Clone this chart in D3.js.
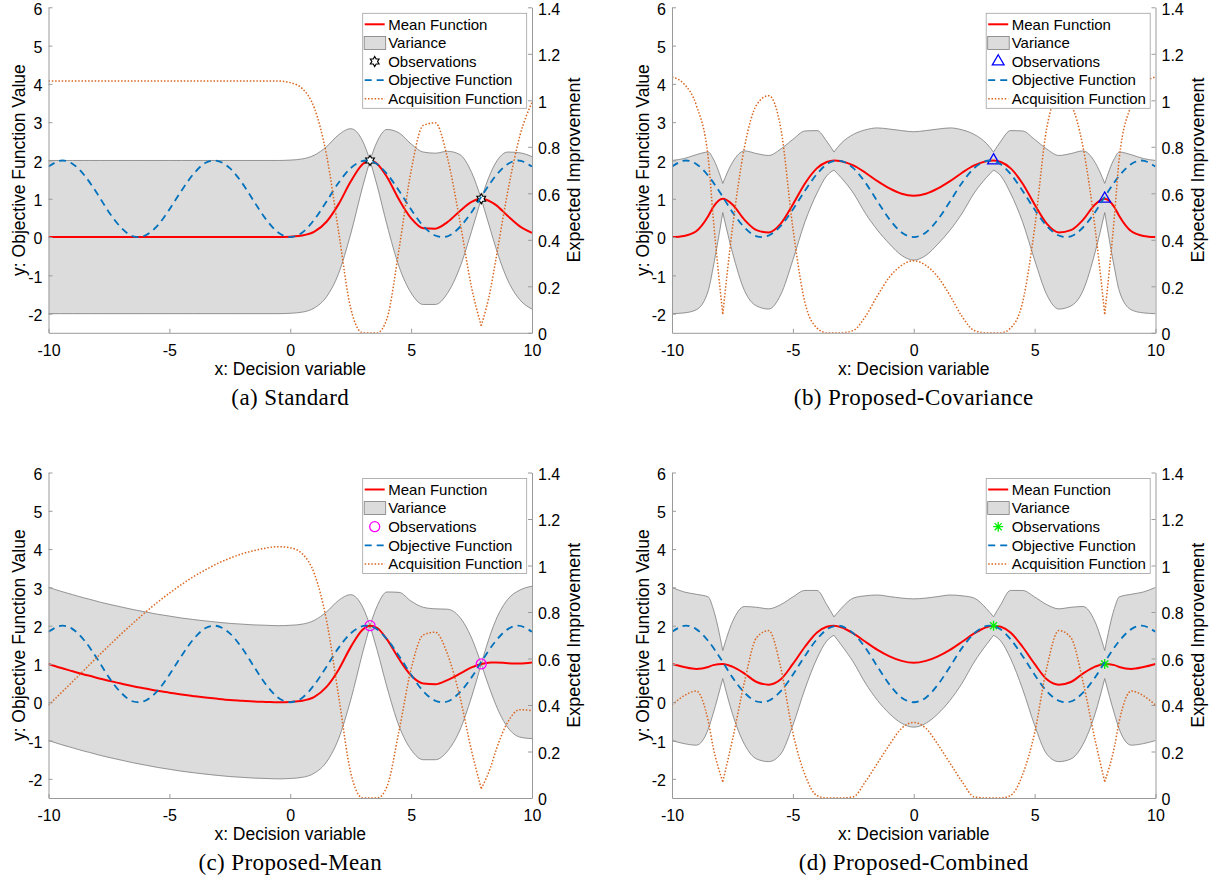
<!DOCTYPE html>
<html>
<head>
<meta charset="utf-8">
<script src="https://cdn.jsdelivr.net/npm/d3@7"></script>
<style>
  body { margin: 0; background: #fff; }
  svg text { fill: #000; }
</style>
</head>
<body>
<svg id="chart" width="1216" height="879"></svg>
<script>
// grid used by the GP curves (mean, band, acquisition)
var xs = [-10, -9.5, -9, -8.5, -8.3, -7.9, -7.5, -7, -6.5, -6,
          -5.5, -5, -4.5, -4, -3.6, -3.3, -3, -2.5, -2, -1.5,
          -1, -0.5, 0, 0.5, 1, 1.5, 2, 2.5, 3, 3.3,
          3.6, 4, 4.5, 5, 5.5, 6, 6.5, 7, 7.5, 7.9,
          8.3, 8.5, 9, 9.5, 10];

// objective function (blue dashed), own grid
var objX = [-10, -9.42, -9, -8.5, -8, -7.5, -7, -6.5, -6.28, -6,
            -5.5, -5, -4.5, -4, -3.5, -3.14, -2.5, -2, -1.5, -1,
            -0.5, 0, 0.5, 1, 1.5, 2, 2.5, 3.14, 3.5, 4,
            4.5, 5, 5.5, 6, 6.28, 6.5, 7, 7.5, 8, 8.5,
            9, 9.42, 10];
var objective = [1.84, 2.00, 1.91, 1.60, 1.15, 0.65, 0.25, 0.02, 0.00, 0.04,
                 0.29, 0.72, 1.21, 1.65, 1.94, 2.00, 1.80, 1.42, 0.93, 0.46,
                 0.12, 0.00, 0.12, 0.46, 0.93, 1.42, 1.80, 2.00, 1.94, 1.65,
                 1.21, 0.72, 0.29, 0.04, 0.00, 0.02, 0.25, 0.65, 1.15, 1.60,
                 1.91, 2.00, 1.84];

var obsX = [3.3, 7.9];
var obsY = [2.0, 1.0];

// (a) Standard
var meanA = [0, 0, 0, 0, 0, 0, 0, 0, 0, 0,
             0, 0, 0, 0, 0, 0, 0, 0, 0, 0,
             0, 0, 0.01, 0.04, 0.14, 0.40, 0.86, 1.45, 1.91, 2.00,
             1.91, 1.57, 0.98, 0.49, 0.23, 0.22, 0.39, 0.67, 0.92, 1.00,
             0.92, 0.84, 0.55, 0.28, 0.11];
var upperA = [2, 2, 2, 2, 2, 2, 2, 2, 2, 2,
              2, 2, 2, 2, 2, 2, 2, 2, 2, 2,
              2, 2, 2.01, 2.04, 2.14, 2.36, 2.67, 2.83, 2.50, 2.00,
              2.50, 2.81, 2.72, 2.43, 2.22, 2.19, 2.24, 2.16, 1.69, 1.00,
              1.69, 1.94, 2.22, 2.20, 2.10];
var lowerA = [-2, -2, -2, -2, -2, -2, -2, -2, -2, -2,
              -2, -2, -2, -2, -2, -2, -2, -2, -2, -2,
              -2, -2, -1.99, -1.96, -1.85, -1.56, -0.95, 0.08, 1.33, 2.00,
              1.33, 0.32, -0.77, -1.46, -1.76, -1.76, -1.47, -0.82, 0.15, 1.00,
              0.15, -0.27, -1.13, -1.64, -1.88];
var acqA = [1.083, 1.083, 1.083, 1.083, 1.083, 1.083, 1.083, 1.083, 1.083, 1.083,
            1.083, 1.083, 1.083, 1.083, 1.083, 1.083, 1.083, 1.083, 1.083, 1.083,
            1.083, 1.083, 1.076, 1.05, 0.966, 0.765, 0.435, 0.106, 0.0, 0.0,
            0.0, 0.061, 0.36, 0.697, 0.892, 0.903, 0.754, 0.49, 0.195, 0.03,
            0.195, 0.312, 0.609, 0.848, 0.991];

// (b) Proposed-Covariance
var meanB = [0.00, 0.03, 0.15, 0.55, 0.78, 1.00, 0.85, 0.45, 0.18, 0.12,
             0.35, 0.85, 1.40, 1.80, 1.96, 2.00, 1.98, 1.87, 1.68, 1.46,
             1.27, 1.13, 1.08, 1.13, 1.27, 1.46, 1.68, 1.87, 1.98, 2.00,
             1.96, 1.80, 1.40, 0.85, 0.35, 0.12, 0.18, 0.45, 0.85, 1.00,
             0.78, 0.55, 0.15, 0.03, 0.00];
var upperB = [2.00, 2.05, 2.15, 2.22, 2.05, 1.40, 1.95, 2.25, 2.18, 2.13,
              2.30, 2.55, 2.77, 2.78, 2.50, 2.22, 2.45, 2.68, 2.80, 2.85,
              2.82, 2.78, 2.75, 2.78, 2.82, 2.85, 2.80, 2.68, 2.45, 2.22,
              2.50, 2.78, 2.77, 2.55, 2.30, 2.13, 2.18, 2.25, 1.95, 1.40,
              2.05, 2.22, 2.15, 2.05, 2.00];
var lowerB = [-2.00, -1.98, -1.90, -1.40, -0.80, 0.64, -0.40, -1.40, -1.80, -1.88,
              -1.50, -0.60, 0.40, 1.15, 1.60, 1.75, 1.55, 1.15, 0.62, 0.18,
              -0.18, -0.48, -0.60, -0.48, -0.18, 0.18, 0.62, 1.15, 1.55, 1.75,
              1.60, 1.15, 0.40, -0.60, -1.50, -1.88, -1.80, -1.40, -0.40, 0.64,
              -0.80, -1.40, -1.90, -1.98, -2.00];
var acqB = [1.10, 1.07, 0.98, 0.75, 0.50, 0.08, 0.45, 0.80, 0.98, 1.02,
            0.88, 0.45, 0.13, 0.02, 0.00, 0.00, 0.00, 0.01, 0.07, 0.16,
            0.24, 0.29, 0.31, 0.29, 0.24, 0.16, 0.07, 0.01, 0.00, 0.00,
            0.00, 0.02, 0.13, 0.45, 0.88, 1.02, 0.98, 0.80, 0.45, 0.08,
            0.50, 0.75, 0.98, 1.07, 1.10];

// (c) Proposed-Mean
var meanC = [1.00, 0.90, 0.81, 0.72, 0.69, 0.62, 0.56, 0.49, 0.42, 0.36,
             0.30, 0.25, 0.20, 0.16, 0.13, 0.11, 0.09, 0.06, 0.04, 0.02,
             0.01, 0.00, 0.01, 0.04, 0.14, 0.40, 0.85, 1.44, 1.90, 2.00,
             1.94, 1.64, 1.13, 0.70, 0.49, 0.47, 0.58, 0.74, 0.91, 1.00,
             1.04, 1.04, 1.02, 1.01, 1.04];
var upperC = [3.00, 2.90, 2.81, 2.72, 2.69, 2.62, 2.56, 2.49, 2.42, 2.36,
              2.30, 2.25, 2.20, 2.16, 2.13, 2.11, 2.09, 2.06, 2.04, 2.02,
              2.01, 2.00, 2.01, 2.04, 2.14, 2.36, 2.66, 2.81, 2.48, 2.00,
              2.52, 2.88, 2.87, 2.64, 2.48, 2.44, 2.43, 2.23, 1.68, 1.00,
              1.81, 2.14, 2.69, 2.93, 3.03];
var lowerC = [-1.00, -1.10, -1.19, -1.28, -1.31, -1.38, -1.44, -1.51, -1.58, -1.64,
              -1.70, -1.75, -1.80, -1.84, -1.87, -1.89, -1.91, -1.94, -1.96, -1.98,
              -1.99, -2.00, -1.99, -1.96, -1.85, -1.56, -0.95, 0.06, 1.31, 2.00,
              1.35, 0.40, -0.62, -1.24, -1.50, -1.50, -1.28, -0.75, 0.14, 1.00,
              0.27, -0.06, -0.66, -0.91, -0.95];
var acqC = [0.399, 0.450, 0.501, 0.553, 0.574, 0.615, 0.655, 0.705, 0.752, 0.798,
            0.841, 0.881, 0.918, 0.952, 0.976, 0.993, 1.009, 1.031, 1.050, 1.064,
            1.075, 1.081, 1.076, 1.050, 0.964, 0.764, 0.439, 0.110, 0.0, 0.0,
            0.0, 0.049, 0.289, 0.555, 0.701, 0.713, 0.620, 0.443, 0.203, 0.04,
            0.136, 0.202, 0.327, 0.380, 0.376];

// (d) Proposed-Combined
var meanD = [1.00, 0.92, 0.87, 0.92, 0.97, 1.00, 0.93, 0.75, 0.53, 0.46,
             0.60, 1.00, 1.45, 1.82, 1.97, 2.00, 1.96, 1.80, 1.58, 1.37,
             1.20, 1.08, 1.03, 1.08, 1.20, 1.37, 1.58, 1.80, 1.96, 2.00,
             1.97, 1.82, 1.45, 1.00, 0.60, 0.46, 0.53, 0.75, 0.93, 1.00,
             0.97, 0.92, 0.87, 0.92, 1.00];
var upperD = [3.00, 2.88, 2.82, 2.75, 2.45, 1.35, 2.10, 2.50, 2.48, 2.44,
              2.55, 2.75, 2.92, 2.92, 2.55, 2.23, 2.45, 2.72, 2.78, 2.80,
              2.76, 2.72, 2.70, 2.72, 2.76, 2.80, 2.78, 2.72, 2.45, 2.23,
              2.55, 2.92, 2.92, 2.75, 2.55, 2.44, 2.48, 2.50, 2.10, 1.35,
              2.45, 2.75, 2.82, 2.88, 3.00];
var lowerD = [-1.00, -1.08, -1.12, -0.70, -0.30, 0.62, -0.30, -1.10, -1.48, -1.55,
              -1.35, -0.60, 0.35, 1.15, 1.60, 1.75, 1.50, 1.05, 0.50, 0.05,
              -0.30, -0.55, -0.65, -0.55, -0.30, 0.05, 0.50, 1.05, 1.50, 1.75,
              1.60, 1.15, 0.35, -0.60, -1.35, -1.55, -1.48, -1.10, -0.30, 0.62,
              -0.30, -0.70, -1.12, -1.08, -1.00];
var acqD = [0.40, 0.44, 0.46, 0.33, 0.22, 0.07, 0.25, 0.50, 0.69, 0.72,
            0.56, 0.28, 0.10, 0.01, 0.00, 0.00, 0.00, 0.005, 0.07, 0.15,
            0.23, 0.30, 0.325, 0.30, 0.23, 0.15, 0.07, 0.005, 0.00, 0.00,
            0.00, 0.01, 0.10, 0.28, 0.56, 0.72, 0.69, 0.50, 0.25, 0.07,
            0.22, 0.33, 0.46, 0.44, 0.40];

var xTicks = [-10, -5, 0, 5, 10];
var yTicks = [-2, -1, 0, 1, 2, 3, 4, 5, 6];
var eiTicks = [0, 0.2, 0.4, 0.6, 0.8, 1, 1.2, 1.4];
var captions = ['(a) Standard', '(b) Proposed-Covariance', '(c) Proposed-Mean', '(d) Proposed-Combined'];
var legendLabels = ['Mean Function', 'Variance', 'Observations', 'Objective Function', 'Acquisition Function'];

var W = 483.5, H = 325.5;
var axisColor = '#9a9a9a';
var red = '#ff0000', blue = '#0072bd', orange = '#d9661f';
var sans = '"Liberation Sans", Arial, Helvetica, sans-serif';
var serif = '"Liberation Serif", "Times New Roman", serif';

var panels = [
  { id: 'a', left: 48.5, top: 7.3, mean: meanA, upper: upperA, lower: lowerA, acq: acqA,
    mark: 'hexagram', markColor: '#000000', pinch: [3.3, 7.9], dip: [7.9] },
  { id: 'b', left: 672, top: 7.3, mean: meanB, upper: upperB, lower: lowerB, acq: acqB,
    mark: 'triangle', markColor: '#0000ff', pinch: [-7.9, -3.3, 3.3, 7.9], dip: [-7.9, 7.9] },
  { id: 'c', left: 48.5, top: 472.5, mean: meanC, upper: upperC, lower: lowerC, acq: acqC,
    mark: 'circle', markColor: '#ff00ff', pinch: [3.3, 7.9], dip: [7.9] },
  { id: 'd', left: 672, top: 472.5, mean: meanD, upper: upperD, lower: lowerD, acq: acqD,
    mark: 'asterisk', markColor: '#00ee00', pinch: [-7.9, -3.3, 3.3, 7.9], dip: [-7.9, 7.9] }
];

var svg = d3.select('#chart');

// split a row list into pieces that meet at the given x values (sharp joins)
function splitRows(rows, cuts) {
  var parts = [[]];
  rows.forEach(function(r) {
    parts[parts.length - 1].push(r);
    if (cuts.indexOf(r.x) >= 0) parts.push([r]);
  });
  return parts.filter(function(p) { return p.length > 1; });
}

function drawMarker(sel, kind, color, cx, cy) {
  var r = 5;
  if (kind === 'hexagram') {
    var pts = [];
    for (var k = 0; k < 12; k++) {
      var a = -Math.PI / 2 + k * Math.PI / 6;
      var rr = k % 2 === 0 ? r : r / Math.sqrt(3);
      pts.push([cx + rr * Math.cos(a), cy + rr * Math.sin(a)]);
    }
    sel.append('path').attr('d', 'M' + pts.join('L') + 'Z')
      .attr('fill', '#fff').attr('stroke', color).attr('stroke-width', 1.2);
  } else if (kind === 'triangle') {
    sel.append('path').attr('d', d3.symbol(d3.symbolTriangle, 60)())
      .attr('transform', 'translate(' + cx + ',' + cy + ')')
      .attr('fill', 'none').attr('stroke', color).attr('stroke-width', 1.3);
  } else if (kind === 'circle') {
    sel.append('circle').attr('cx', cx).attr('cy', cy).attr('r', 5)
      .attr('fill', 'none').attr('stroke', color).attr('stroke-width', 1.3);
  } else {
    var d = '';
    for (var j = 0; j < 4; j++) {
      var b = j * Math.PI / 4;
      d += 'M' + (cx - r * Math.cos(b)) + ',' + (cy - r * Math.sin(b)) +
           'L' + (cx + r * Math.cos(b)) + ',' + (cy + r * Math.sin(b));
    }
    sel.append('path').attr('d', d).attr('fill', 'none')
      .attr('stroke', color).attr('stroke-width', 1.3);
  }
}

function styleAxis(g, vertical) {
  g.attr('font-family', null).attr('font-size', null);
  g.select('.domain').attr('stroke', axisColor).attr('stroke-width', 1);
  g.selectAll('.tick line').attr('stroke', axisColor).attr('stroke-width', 1);
  var t = g.selectAll('.tick text').attr('fill', '#111')
    .style('font-family', sans).style('font-size', '16px');
  if (vertical) t.attr('dy', '0.42em');
}

panels.forEach(function(p, pi) {
  var g = svg.append('g').attr('transform', 'translate(' + p.left + ',' + p.top + ')');
  var x = d3.scaleLinear().domain([-10, 10]).range([0, W]);
  var y = d3.scaleLinear().domain([-2.5, 6]).range([H, 0]);
  var yR = d3.scaleLinear().domain([0, 1.4]).range([H, 0]);

  var clipId = 'clip-' + p.id;
  g.append('clipPath').attr('id', clipId).append('rect').attr('width', W).attr('height', H);
  var plot = g.append('g').attr('clip-path', 'url(#' + clipId + ')');

  var rows = xs.map(function(v, i) {
    return { x: v, m: p.mean[i], u: p.upper[i], l: p.lower[i], ei: p.acq[i] };
  });

  // variance band
  var area = d3.area().x(function(d) { return x(d.x); })
    .y0(function(d) { return y(d.l); }).y1(function(d) { return y(d.u); })
    .curve(d3.curveMonotoneX);
  var upLine = d3.line().x(function(d) { return x(d.x); }).y(function(d) { return y(d.u); }).curve(d3.curveMonotoneX);
  var loLine = d3.line().x(function(d) { return x(d.x); }).y(function(d) { return y(d.l); }).curve(d3.curveMonotoneX);
  var bandParts = splitRows(rows, p.pinch);
  plot.selectAll('path.band').data(bandParts).enter().append('path').attr('class', 'band')
    .attr('d', area).attr('fill', '#dcdcdc').attr('stroke', '#dcdcdc').attr('stroke-width', 0.3);
  plot.selectAll('path.up').data(bandParts).enter().append('path').attr('class', 'up')
    .attr('d', upLine).attr('fill', 'none').attr('stroke', '#7d7d7d').attr('stroke-width', 0.8);
  plot.selectAll('path.lo').data(bandParts).enter().append('path').attr('class', 'lo')
    .attr('d', loLine).attr('fill', 'none').attr('stroke', '#7d7d7d').attr('stroke-width', 0.8);

  // mean
  plot.append('path').datum(rows)
    .attr('d', d3.line().x(function(d) { return x(d.x); }).y(function(d) { return y(d.m); }).curve(d3.curveMonotoneX))
    .attr('fill', 'none').attr('stroke', red).attr('stroke-width', 2);

  // observations
  obsX.forEach(function(ox, i) { drawMarker(plot, p.mark, p.markColor, x(ox), y(obsY[i])); });

  // objective
  var objRows = objX.map(function(v, i) { return { x: v, v: objective[i] }; });
  plot.append('path').datum(objRows)
    .attr('d', d3.line().x(function(d) { return x(d.x); }).y(function(d) { return y(d.v); }).curve(d3.curveMonotoneX))
    .attr('fill', 'none').attr('stroke', blue).attr('stroke-width', 1.8).attr('stroke-dasharray', '7,5');

  // acquisition (right axis)
  var eiLine = d3.line().x(function(d) { return x(d.x); }).y(function(d) { return yR(d.ei); }).curve(d3.curveMonotoneX);
  plot.selectAll('path.ei').data(splitRows(rows, p.dip)).enter().append('path').attr('class', 'ei')
    .attr('d', eiLine).attr('fill', 'none').attr('stroke', orange).attr('stroke-width', 1.5)
    .attr('stroke-dasharray', '1.5,1.8');

  // axes
  var gx = g.append('g').attr('transform', 'translate(0,' + H + ')')
    .call(d3.axisBottom(x).tickValues(xTicks).tickSize(-4).tickSizeOuter(0).tickPadding(11.5)
      .tickFormat(function(d) { return String(d); }));
  styleAxis(gx, false);
  var gy = g.append('g')
    .call(d3.axisLeft(y).tickValues(yTicks).tickSize(-4).tickSizeOuter(0).tickPadding(6)
      .tickFormat(function(d) { return String(d); }));
  styleAxis(gy, true);
  var gr = g.append('g').attr('transform', 'translate(' + W + ',0)')
    .call(d3.axisRight(yR).tickValues(eiTicks).tickSize(-4).tickSizeOuter(0).tickPadding(6)
      .tickFormat(function(d) { return String(d); }));
  styleAxis(gr, true);

  // axis titles
  g.append('text').attr('x', W / 2).attr('y', H + 42).attr('text-anchor', 'middle')
    .style('font-family', sans).style('font-size', '17.5px').text('x: Decision variable');
  g.append('text').attr('transform', 'translate(-23.5,' + (H / 2) + ') rotate(-90)')
    .attr('text-anchor', 'middle').style('font-family', sans).style('font-size', '17.5px')
    .text('y: Objective Function Value');
  g.append('text').attr('transform', 'translate(' + (W + 48) + ',' + (H / 2) + ') rotate(-90)')
    .attr('text-anchor', 'middle').style('font-family', sans).style('font-size', '18px')
    .text('Expected Improvement');

  // caption
  g.append('text').attr('x', W / 2).attr('y', H + 72).attr('text-anchor', 'middle')
    .style('font-family', serif).style('font-size', '23px').style('letter-spacing', '0.4px')
    .text(captions[pi]);

  // legend
  var lw = 164, lh = 95;
  var lg = g.append('g').attr('transform', 'translate(' + (W - 5.3 - lw) + ',6)');
  lg.append('rect').attr('width', lw).attr('height', lh).attr('fill', '#fff')
    .attr('stroke', '#a0a0a0').attr('stroke-width', 0.8);
  legendLabels.forEach(function(t, i) {
    var cy = 11 + i * 18.6;
    if (i === 0) {
      lg.append('line').attr('x1', 2).attr('x2', 22).attr('y1', cy).attr('y2', cy)
        .attr('stroke', red).attr('stroke-width', 2);
    } else if (i === 1) {
      lg.append('rect').attr('x', 1.5).attr('y', cy - 6.5).attr('width', 21.5).attr('height', 13)
        .attr('fill', '#dcdcdc').attr('stroke', '#7d7d7d').attr('stroke-width', 0.8);
    } else if (i === 2) {
      drawMarker(lg, p.mark, p.markColor, 12, cy);
    } else if (i === 3) {
      lg.append('line').attr('x1', 2).attr('x2', 22).attr('y1', cy).attr('y2', cy)
        .attr('stroke', blue).attr('stroke-width', 1.8).attr('stroke-dasharray', '7,5');
    } else {
      lg.append('line').attr('x1', 2).attr('x2', 22).attr('y1', cy).attr('y2', cy)
        .attr('stroke', orange).attr('stroke-width', 1.5).attr('stroke-dasharray', '1.5,1.8');
    }
    lg.append('text').attr('x', 25.5).attr('y', cy).attr('dy', '0.35em')
      .style('font-family', sans).style('font-size', '15px').text(t);
  });
});
</script>
</body>
</html>
